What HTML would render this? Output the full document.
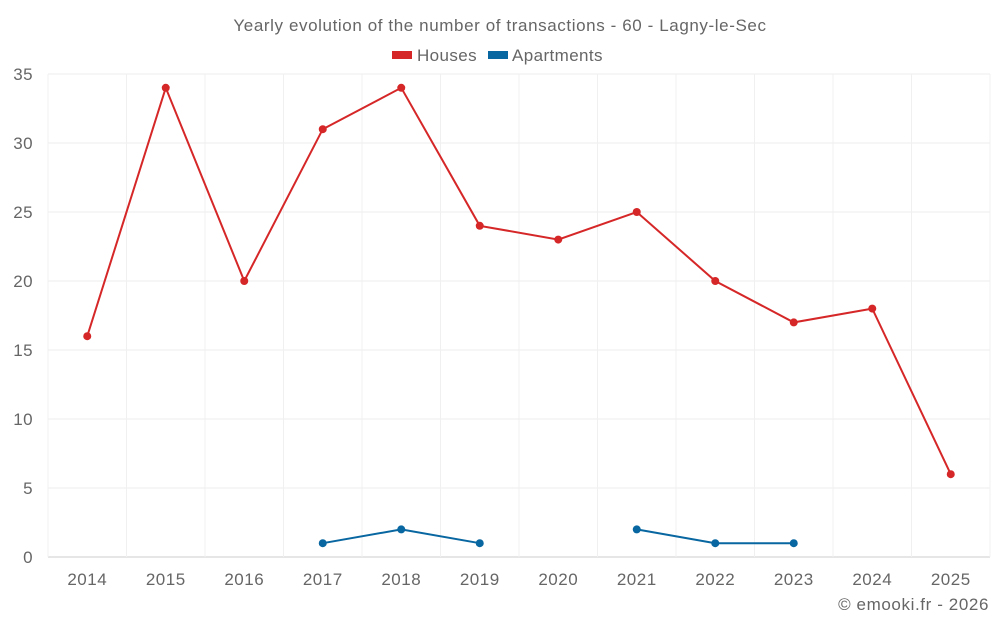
<!DOCTYPE html>
<html><head><meta charset="utf-8"><style>
body{margin:0;background:#fff;font-family:"Liberation Sans",sans-serif;}
svg text{font-family:"Liberation Sans",sans-serif;}
</style></head><body>
<svg id="c" width="1000" height="625">
<text x="500" y="31" text-anchor="middle" font-size="17" letter-spacing="0.6" fill="#666">Yearly evolution of the number of transactions - 60 - Lagny-le-Sec</text>
<g><rect x="392" y="51" width="20" height="8" fill="#d62728"/><text x="417" y="61" font-size="17" letter-spacing="0.4" fill="#666">Houses</text></g>
<g><rect x="488" y="51" width="20" height="8" fill="#0866a0"/><text x="512" y="61" font-size="17" letter-spacing="0.4" fill="#666">Apartments</text></g>
<g id="grid"></g><g id="axes"></g><g id="series"></g>
<text x="989" y="610" text-anchor="end" font-size="17" letter-spacing="0.6" fill="#666">© emooki.fr - 2026</text>
</svg>
<script>
const categories=["2014","2015","2016","2017","2018","2019","2020","2021","2022","2023","2024","2025"];
const houses=[16,34,20,31,34,24,23,25,20,17,18,6];
const apartments=[null,null,null,1,2,1,null,2,1,1,null,null];
const yTicks=[0,5,10,15,20,25,30,35];
const L=48,R=990,T=74,B=557,yMax=35;
const bw=(R-L)/categories.length;
const x=i=>L+bw*(i+0.5);
const y=v=>B-(v/yMax)*(B-T);
const NS="http://www.w3.org/2000/svg";
function mk(p,t,a){const e=document.createElementNS(NS,t);for(const k in a)e.setAttribute(k,a[k]);p.appendChild(e);return e;}
const g=document.getElementById('grid'),ax=document.getElementById('axes'),s=document.getElementById('series');
yTicks.forEach(v=>{
 const l=mk(g,'line',{x1:L,x2:R,y1:y(v),y2:y(v),stroke:v===0?'#ccc':'#eee'});
 
 
 const t=mk(ax,'text',{x:33,y:y(v)+6,'text-anchor':'end','font-size':17,'letter-spacing':0.4,fill:'#666'});t.textContent=v;
 
 
});
for(let i=0;i<=categories.length;i++){
 const l=mk(g,'line',{x1:L+bw*i,x2:L+bw*i,y1:T,y2:B,stroke:'#f0f0f0'});
 
 
}
categories.forEach((c,i)=>{
 const t=mk(ax,'text',{x:x(i),y:585,'text-anchor':'middle','font-size':17,'letter-spacing':0.5,fill:'#666'});t.textContent=c;
 
 
});
function draw(data,color,name){
 let d='',pen=false;
 data.forEach((v,i)=>{if(v==null){pen=false;return;}d+=(pen?'L':'M')+x(i)+' '+y(v);pen=true;});
 const p=mk(s,'path',{d:d,fill:'none',stroke:color,'stroke-width':2});
 
 
 data.forEach((v,i)=>{if(v==null)return;
  const c=mk(s,'circle',{cx:x(i),cy:y(v),r:4,fill:color});
  
  
 });
}
draw(houses,'#d62728','houses');
draw(apartments,'#0866a0','apartments');
</script>
</body></html>
